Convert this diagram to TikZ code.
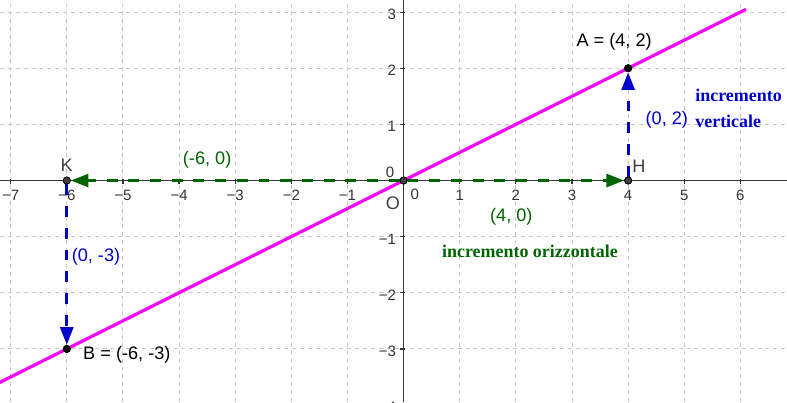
\documentclass[tikz,border=0pt]{standalone}
\usepackage{fontspec}
\setmainfont{Liberation Sans}
\newfontfamily\serifb{Liberation Serif}[BoldFont={Liberation Serif Bold}]
\usetikzlibrary{arrows.meta}
\definecolor{gg}{RGB}{0,100,0}
\definecolor{bb}{RGB}{0,0,204}
\definecolor{mag}{RGB}{255,0,255}
\definecolor{ptgray}{RGB}{64,64,64}
\definecolor{gridc}{RGB}{200,200,200}
\tikzset{
  gridline/.style={gridc, line width=0.5pt, dash pattern=on 2pt off 2pt},
  axisline/.style={black!80, line width=0.6pt},
  ticklab/.style={font=\fontsize{7.6}{9}\selectfont, text=black!80, inner sep=0pt},
  ptlab/.style={font=\fontsize{9.2}{11}\selectfont, inner sep=0pt},
  dotb/.style={circle, draw=black, fill=black, line width=0.4pt, inner sep=0pt, minimum size=3.6pt},
  dotg/.style={circle, draw=black, fill=ptgray, line width=0.4pt, inner sep=0pt, minimum size=3.6pt},
  gvec/.style={gg, line width=1.6pt, dash pattern=on 5.5pt off 5.5pt, -{Triangle[length=9pt,width=6.5pt]}},
  bvec/.style={bb, line width=1.6pt, dash pattern=on 5.5pt off 5.5pt, -{Triangle[length=9pt,width=6.5pt]}},
  inclab/.style={font=\serifb\bfseries\fontsize{9.1}{11}\selectfont, inner sep=0pt}
}
\begin{document}
\begin{tikzpicture}[x=1cm,y=1cm]
\useasboundingbox (-7.19,-3.946) rectangle (6.83,3.216);
\begin{scope}
\clip (-7.19,-3.946) rectangle (6.83,3.216);
% grid
\foreach \x in {-7,...,6} \draw[gridline] (\x,-3.946) -- (\x,3.216);
\foreach \y in {-3,...,3} \draw[gridline] (-7.19,\y) -- (6.83,\y);
% axes
\draw[axisline] (-7.19,0) -- (6.83,0);
\draw[axisline] (0,-3.946) -- (0,3.216);
\foreach \x in {-7,...,-1,1,2,...,6} \draw[axisline] (\x,0.02) -- (\x,-0.07);
\foreach \y in {-3,...,-1,1,2,3} \draw[axisline] (0.02,\y) -- (-0.07,\y);
% tick labels
\foreach \x in {1,...,7} \node[ticklab] (xm\x) at (-\x,-0.26) {−\x};
\foreach \x in {1,...,6} \node[ticklab] (xp\x) at (\x,-0.26) {\x};
\foreach \y in {1,...,4} \node[ticklab, anchor=east] (ym\y) at (-0.13,-\y-0.04) {−\y};
\foreach \y in {1,...,3} \node[ticklab, anchor=east] (yp\y) at (-0.13,\y-0.04) {\y};
\node[ticklab] (y0) at (-0.24,0.15) {0};
\node[ticklab] (x0) at (0.2,-0.24) {0};
% line
\draw[mag, line width=1.6pt] (-8,-4) -- (6.1,3.05);
\end{scope}
% points
\node[dotb] (A) at (4,2) {};
\node[dotb] (B) at (-6,-3) {};
\node[dotg] (O) at (0,0) {};
\node[dotg] (H) at (4,0) {};
\node[dotg] (K) at (-6,0) {};
% vectors
\draw[gvec] (O) -- (H);
\draw[gvec] (O) -- (K);
\draw[bvec] (H) -- (A);
\draw[bvec] (K) -- (B);
% redraw dots on top
\node[dotb] at (A) {};
\node[dotb] at (B) {};
\node[dotg] at (O) {};
\node[dotg] at (H) {};
\node[dotg] at (K) {};
% labels
\node[ptlab] (Alab) at (3.75,2.47) {A = (4, 2)};
\node[ptlab] (Blab) at (-4.93,-3.11) {B = (-6, -3)};
\node[ptlab, text=ptgray] (Klab) at (-6.0,0.27) {K};
\node[ptlab, text=ptgray] (Hlab) at (4.19,0.25) {H};
\node[ptlab, text=ptgray] (Olab) at (-0.19,-0.40) {O};
\node[ptlab, text=bb] (v02) at (4.69,1.09) {(0, 2)};
\node[ptlab, text=bb] (v03) at (-5.48,-1.36) {(0, -3)};
\node[ptlab, text=gg] (v60) at (-3.50,0.37) {(-6, 0)};
\node[ptlab, text=gg] (v40) at (1.92,-0.65) {(4, 0)};
\node[inclab, text=bb, anchor=west] (inc1) at (5.19,1.51) {incremento};
\node[inclab, text=bb, anchor=west] (inc2) at (5.19,1.06) {verticale};
\node[inclab, text=gg] (inc3) at (2.25,-1.26) {incremento orizzontale};
\end{tikzpicture}
\end{document}
